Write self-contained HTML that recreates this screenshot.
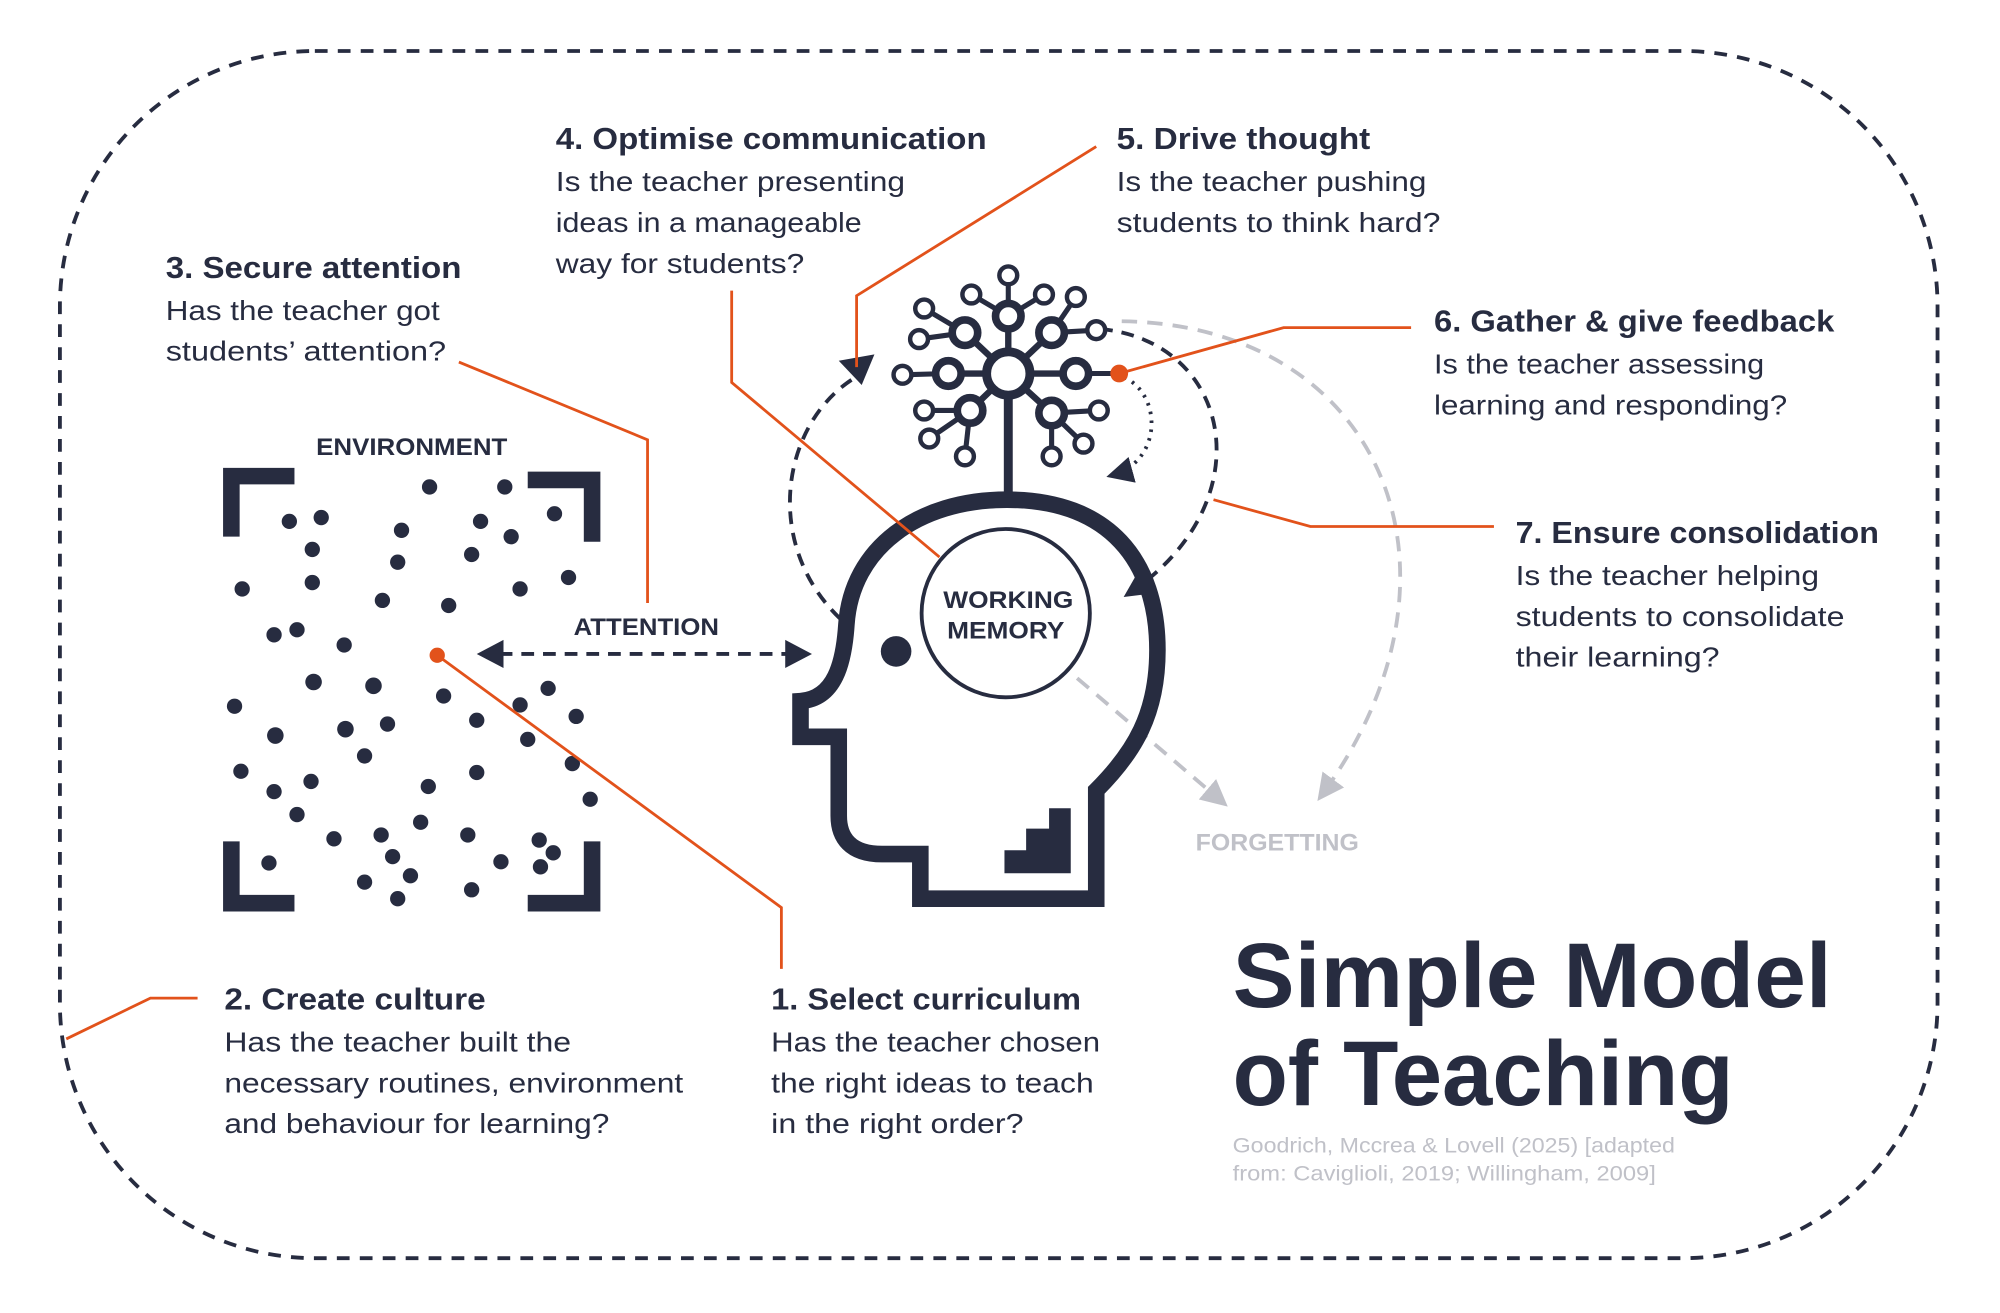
<!DOCTYPE html>
<html><head><meta charset="utf-8"><style>
html,body{margin:0;padding:0;background:#fff;width:2000px;height:1313px;overflow:hidden}
svg{display:block}
text{font-family:"Liberation Sans",sans-serif;fill:#272c40}
.h{font-weight:bold;font-size:24px}
.b{font-size:22px}
</style></head><body>
<svg width="2000" height="1313" viewBox="0 0 1569 1030" preserveAspectRatio="none" xmlns="http://www.w3.org/2000/svg">
<defs>
<marker id="ad" viewBox="0 0 10 10" refX="8" refY="5" markerWidth="7" markerHeight="7" orient="auto"><path d="M0,0L10,5L0,10z" fill="#272c40"/></marker>
<marker id="ag" viewBox="0 0 10 10" refX="8" refY="5" markerWidth="7" markerHeight="7" orient="auto"><path d="M0,0L10,5L0,10z" fill="#c0c1c8"/></marker>
</defs>
<rect x="47" y="40" width="1473" height="947" rx="200" fill="none" stroke="#272c40" stroke-width="3" stroke-dasharray="10 8"/>

<path d="M880,252 C1085,255 1165,450 1036,625" fill="none" stroke="#c0c1c8" stroke-width="3" stroke-dasharray="12 8" marker-end="url(#ag)"/>
<path d="M845,532 L960,630" fill="none" stroke="#c0c1c8" stroke-width="3" stroke-dasharray="12 8" marker-end="url(#ag)"/>
<text x="938" y="667" font-weight="bold" font-size="19" style="fill:#c0c1c8" textLength="128" lengthAdjust="spacingAndGlyphs">FORGETTING</text>

<path d="M668,298 C612,335 598,430 662,488" fill="none" stroke="#272c40" stroke-width="3" stroke-dasharray="10 7"/>
<path d="M658,283 L676,302 L686,278 Z" fill="#272c40"/>
<path d="M863,258 C968,268 992,395 885,466" fill="none" stroke="#272c40" stroke-width="3" stroke-dasharray="10 7" marker-end="url(#ad)"/>
<path d="M882,296 C912,310 912,362 872,373" fill="none" stroke="#272c40" stroke-width="3" stroke-dasharray="2 5" marker-end="url(#ad)"/>

<path d="M790,392 C870,392 908,440 908,510 C908,560 890,590 860,620 L860,705 L722,705 L722,670 L692,670 C667,670 658,657 658,640 L658,578 L628,578 L628,550 C655,548 662,520 664,490 C668,430 720,392 790,392 Z" fill="none" stroke="#272c40" stroke-width="13" stroke-linejoin="miter"/>
<circle cx="703" cy="511" r="12" fill="#272c40"/>
<path d="M788,685 L788,667 L805,667 L805,650 L823,650 L823,634 L840,634 L840,685 Z" fill="#272c40"/>
<circle cx="789" cy="481" r="66" fill="#fff" stroke="#272c40" stroke-width="3"/>
<text x="740" y="477" font-weight="bold" font-size="19" textLength="102" lengthAdjust="spacingAndGlyphs">WORKING</text>
<text x="743" y="501" font-weight="bold" font-size="19" textLength="92" lengthAdjust="spacingAndGlyphs">MEMORY</text>

<g stroke="#272c40" fill="#fff">
<line x1="791" y1="293" x2="791" y2="390" stroke-width="7"/>
<g stroke-width="4">
<line x1="791" y1="248" x2="791" y2="216"/><line x1="791" y1="248" x2="762" y2="231"/><line x1="791" y1="248" x2="819" y2="231"/>
<line x1="757" y1="261" x2="725" y2="242"/><line x1="757" y1="261" x2="721" y2="266"/>
<line x1="825" y1="261" x2="844" y2="233"/><line x1="825" y1="261" x2="860" y2="259"/>
<line x1="744" y1="293" x2="708" y2="294"/><line x1="761" y1="322" x2="725" y2="322"/><line x1="761" y1="322" x2="729" y2="344"/><line x1="761" y1="322" x2="757" y2="358"/>
<line x1="825" y1="324" x2="862" y2="322"/><line x1="825" y1="324" x2="825" y2="358"/><line x1="825" y1="324" x2="850" y2="348"/>
<line x1="844" y1="293" x2="878" y2="293"/>
</g>
<g stroke-width="5">
<line x1="791" y1="293" x2="791" y2="248"/><line x1="791" y1="293" x2="757" y2="261"/><line x1="791" y1="293" x2="825" y2="261"/>
<line x1="791" y1="293" x2="744" y2="293"/><line x1="791" y1="293" x2="844" y2="293"/><line x1="791" y1="293" x2="761" y2="322"/><line x1="791" y1="293" x2="825" y2="324"/>
</g>
<g stroke-width="3.5">
<circle cx="791" cy="216" r="7"/><circle cx="762" cy="231" r="7"/><circle cx="819" cy="231" r="7"/><circle cx="725" cy="242" r="7"/><circle cx="844" cy="233" r="7"/><circle cx="721" cy="266" r="7"/><circle cx="860" cy="259" r="7"/><circle cx="708" cy="294" r="7"/><circle cx="725" cy="322" r="7"/><circle cx="862" cy="322" r="7"/><circle cx="729" cy="344" r="7"/><circle cx="757" cy="358" r="7"/><circle cx="825" cy="358" r="7"/><circle cx="850" cy="348" r="7"/>
</g>
<g stroke-width="6">
<circle cx="791" cy="248" r="10"/><circle cx="757" cy="261" r="10"/><circle cx="825" cy="261" r="10"/><circle cx="744" cy="293" r="10"/><circle cx="844" cy="293" r="10"/><circle cx="761" cy="322" r="10"/><circle cx="825" cy="324" r="10"/>
</g>
<circle cx="791" cy="293" r="17" stroke-width="7"/>
</g>

<text x="248" y="357" font-weight="bold" font-size="19" textLength="150" lengthAdjust="spacingAndGlyphs">ENVIRONMENT</text>
<g fill="#272c40">
<path d="M175,367 H231 V380 H188 V421 H175 Z"/>
<path d="M471,370 H414 V383 H458 V425 H471 Z"/>
<path d="M175,715 H231 V702 H188 V660 H175 Z"/>
<path d="M471,715 H414 V702 H458 V660 H471 Z"/>
<g>
<circle cx="337" cy="382" r="6"/><circle cx="396" cy="382" r="6"/><circle cx="435" cy="403" r="6"/><circle cx="227" cy="409" r="6"/><circle cx="252" cy="406" r="6"/><circle cx="315" cy="416" r="6"/><circle cx="377" cy="409" r="6"/><circle cx="245" cy="431" r="6"/><circle cx="312" cy="441" r="6"/><circle cx="370" cy="435" r="6"/><circle cx="401" cy="421" r="6"/><circle cx="190" cy="462" r="6"/><circle cx="245" cy="457" r="6"/><circle cx="300" cy="471" r="6"/><circle cx="352" cy="475" r="6"/><circle cx="408" cy="462" r="6"/><circle cx="446" cy="453" r="6"/><circle cx="215" cy="498" r="6"/><circle cx="233" cy="494" r="6"/><circle cx="270" cy="506" r="6"/><circle cx="246" cy="535" r="6.5"/><circle cx="293" cy="538" r="6.5"/><circle cx="184" cy="554" r="6"/><circle cx="216" cy="577" r="6.5"/><circle cx="271" cy="572" r="6.5"/><circle cx="304" cy="568" r="6"/><circle cx="348" cy="546" r="6"/><circle cx="374" cy="565" r="6"/><circle cx="408" cy="553" r="6"/><circle cx="430" cy="540" r="6"/><circle cx="452" cy="562" r="6"/><circle cx="414" cy="580" r="6"/><circle cx="286" cy="593" r="6"/><circle cx="189" cy="605" r="6"/><circle cx="215" cy="621" r="6"/><circle cx="244" cy="613" r="6"/><circle cx="336" cy="617" r="6"/><circle cx="374" cy="606" r="6"/><circle cx="449" cy="599" r="6"/><circle cx="463" cy="627" r="6"/><circle cx="233" cy="639" r="6"/><circle cx="262" cy="658" r="6"/><circle cx="299" cy="655" r="6"/><circle cx="330" cy="645" r="6"/><circle cx="308" cy="672" r="6"/><circle cx="367" cy="655" r="6"/><circle cx="322" cy="687" r="6"/><circle cx="286" cy="692" r="6"/><circle cx="312" cy="705" r="6"/><circle cx="211" cy="677" r="6"/><circle cx="370" cy="698" r="6"/><circle cx="423" cy="659" r="6"/><circle cx="434" cy="669" r="6"/><circle cx="424" cy="680" r="6"/><circle cx="393" cy="676" r="6"/>
</g>
</g>

<text x="450" y="498" font-weight="bold" font-size="19" textLength="114" lengthAdjust="spacingAndGlyphs">ATTENTION</text>
<line x1="392" y1="513" x2="618" y2="513" stroke="#272c40" stroke-width="3" stroke-dasharray="10 7"/>
<path d="M374,513 L395,502 L395,524 Z" fill="#272c40"/>
<path d="M637,513 L616,502 L616,524 Z" fill="#272c40"/>

<g fill="none" stroke="#e2521b" stroke-width="2.2">
<polyline points="360,284 508,345 508,473"/>
<polyline points="574,228 574,300 737,437"/>
<polyline points="860,115 672,232 672,288"/>
<polyline points="878,293 1007,257 1107,257"/>
<polyline points="952,392 1028,413 1172,413"/>
<polyline points="343,514 613,712 613,760"/>
<polyline points="155,783 118,783 52,815"/>
</g>
<circle cx="878" cy="293" r="7" fill="#e2521b"/>
<circle cx="343" cy="514" r="6" fill="#e2521b"/>

<text class="h" x="130" y="218" textLength="232" lengthAdjust="spacingAndGlyphs">3. Secure attention</text>
<text class="b" x="130" y="251" textLength="215" lengthAdjust="spacingAndGlyphs">Has the teacher got</text>
<text class="b" x="130" y="283" textLength="220" lengthAdjust="spacingAndGlyphs">students’ attention?</text>

<text class="h" x="436" y="117" textLength="338" lengthAdjust="spacingAndGlyphs">4. Optimise communication</text>
<text class="b" x="436" y="150" textLength="274" lengthAdjust="spacingAndGlyphs">Is the teacher presenting</text>
<text class="b" x="436" y="182" textLength="240" lengthAdjust="spacingAndGlyphs">ideas in a manageable</text>
<text class="b" x="436" y="214" textLength="195" lengthAdjust="spacingAndGlyphs">way for students?</text>

<text class="h" x="876" y="117" textLength="199" lengthAdjust="spacingAndGlyphs">5. Drive thought</text>
<text class="b" x="876" y="150" textLength="243" lengthAdjust="spacingAndGlyphs">Is the teacher pushing</text>
<text class="b" x="876" y="182" textLength="254" lengthAdjust="spacingAndGlyphs">students to think hard?</text>

<text class="h" x="1125" y="260" textLength="314" lengthAdjust="spacingAndGlyphs">6. Gather &amp; give feedback</text>
<text class="b" x="1125" y="293" textLength="259" lengthAdjust="spacingAndGlyphs">Is the teacher assessing</text>
<text class="b" x="1125" y="325" textLength="277" lengthAdjust="spacingAndGlyphs">learning and responding?</text>

<text class="h" x="1189" y="426" textLength="285" lengthAdjust="spacingAndGlyphs">7. Ensure consolidation</text>
<text class="b" x="1189" y="459" textLength="238" lengthAdjust="spacingAndGlyphs">Is the teacher helping</text>
<text class="b" x="1189" y="491" textLength="258" lengthAdjust="spacingAndGlyphs">students to consolidate</text>
<text class="b" x="1189" y="523" textLength="160" lengthAdjust="spacingAndGlyphs">their learning?</text>

<text class="h" x="176" y="792" textLength="205" lengthAdjust="spacingAndGlyphs">2. Create culture</text>
<text class="b" x="176" y="825" textLength="272" lengthAdjust="spacingAndGlyphs">Has the teacher built the</text>
<text class="b" x="176" y="857" textLength="360" lengthAdjust="spacingAndGlyphs">necessary routines, environment</text>
<text class="b" x="176" y="889" textLength="302" lengthAdjust="spacingAndGlyphs">and behaviour for learning?</text>

<text class="h" x="605" y="792" textLength="243" lengthAdjust="spacingAndGlyphs">1. Select curriculum</text>
<text class="b" x="605" y="825" textLength="258" lengthAdjust="spacingAndGlyphs">Has the teacher chosen</text>
<text class="b" x="605" y="857" textLength="253" lengthAdjust="spacingAndGlyphs">the right ideas to teach</text>
<text class="b" x="605" y="889" textLength="198" lengthAdjust="spacingAndGlyphs">in the right order?</text>

<text x="967" y="790" font-weight="bold" font-size="72" textLength="470" lengthAdjust="spacingAndGlyphs">Simple Model</text>
<text x="967" y="867" font-weight="bold" font-size="72" textLength="393" lengthAdjust="spacingAndGlyphs">of Teaching</text>
<text x="967" y="904" font-size="17" style="fill:#c0c1c8" textLength="347" lengthAdjust="spacingAndGlyphs">Goodrich, Mccrea &amp; Lovell (2025) [adapted</text>
<text x="967" y="926" font-size="17" style="fill:#c0c1c8" textLength="332" lengthAdjust="spacingAndGlyphs">from: Caviglioli, 2019; Willingham, 2009]</text>
</svg>
</body></html>
